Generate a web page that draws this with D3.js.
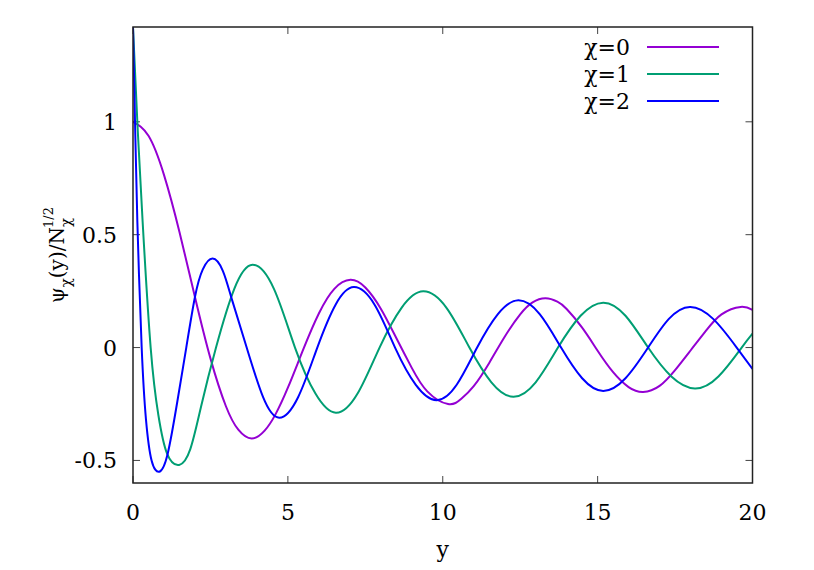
<!DOCTYPE html>
<html>
<head>
<meta charset="utf-8">
<script src="https://cdn.jsdelivr.net/npm/d3@7"></script>
<style>
  html, body { margin: 0; padding: 0; background: #fff; }
</style>
</head>
<body>
<svg id="chart" width="814" height="570"></svg>
<script>
// ---- data ----
const seriesNames = ["χ=0", "χ=1", "χ=2"];
const seriesColors = ["#9400d3", "#009e73", "#0000ff"];

// χ=0 : [y, value]
const chi0 = [
  [0,1],[0.5,0.938],[1,0.765],[1.5,0.512],[2,0.224],[2.5,-0.048],[3,-0.260],[3.4,-0.364],
  [3.83,-0.403],[4.25,-0.368],[4.6,-0.296],[5,-0.178],[5.5,-0.007],[6,0.151],[6.5,0.260],[7.02,0.300],
  [7.5,0.266],[8,0.172],[8.5,0.042],[9,-0.090],[9.5,-0.194],[10.17,-0.250],[10.6,-0.227],[11,-0.171],
  [11.5,-0.068],[12,0.048],[12.5,0.147],[12.9,0.200],[13.32,0.218],[13.7,0.203],[14,0.171],[14.5,0.088],
  [15,-0.014],[15.5,-0.109],[16,-0.175],[16.47,-0.197],[17,-0.170],[17.5,-0.100],[18,-0.013],
  [18.5,0.075],[19,0.147],[19.62,0.180],[20,0.167]
];
// χ=1
const chi1 = [
  [0,1.42],[0.14,1.0],[0.31,0.56],[0.57,0.0],[0.82,-0.30],[1.1,-0.47],[1.49,-0.52],[1.85,-0.45],
  [2.2,-0.26],[2.68,0.0],[3.27,0.26],[3.86,0.367],[4.55,0.26],[5.23,0.0],
  [5.89,-0.204],[6.55,-0.289],[7.25,-0.204],[7.96,0.0],[8.67,0.176],[9.37,0.249],[10.12,0.176],
  [10.86,0.0],[11.57,-0.154],[12.28,-0.218],[13.0,-0.154],[13.72,0.0],[14.45,0.141],[15.18,0.199],
  [15.9,0.141],[16.63,0.0],[17.38,-0.128],[18.14,-0.181],[18.9,-0.128],[19.65,0.0],[20,0.062]
];
// χ=2
const chi2 = [
  [0,1.42],[0.065,1.0],[0.14,0.56],[0.28,0.0],[0.42,-0.32],[0.6,-0.5],[0.85,-0.55],[1.12,-0.47],
  [1.43,-0.24],[1.72,0.0],[2.0,0.224],[2.25,0.345],[2.57,0.394],[2.9,0.34],[3.2,0.21],[3.67,0.0],[4.2,-0.22],
  [4.72,-0.311],[5.33,-0.22],[5.95,0.0],[6.54,0.19],[7.13,0.268],[7.8,0.19],[8.46,0.0],[9.13,-0.165],
  [9.8,-0.233],[10.45,-0.165],[11.11,0.0],[11.78,0.148],[12.44,0.209],[13.13,0.148],[13.82,0.0],
  [14.5,-0.136],[15.18,-0.192],[15.9,-0.136],[16.63,0.0],[17.3,0.127],[17.98,0.18],[18.73,0.127],
  [19.49,0.0],[20,-0.095]
];
const seriesData = [chi0, chi1, chi2];

const xTicks = [0, 5, 10, 15, 20];
const yTicks = [-0.5, 0, 0.5, 1];
const xDomain = [0, 20];
const yDomain = [-0.6, 1.42];

// ---- layout ----
const FONT = "DejaVu Serif";
const svg = d3.select("#chart");
const L = 133, R = 752.5, T = 27, B = 483;
const x = d3.scaleLinear().domain(xDomain).range([L, R]);
const y = d3.scaleLinear().domain(yDomain).range([B, T]);
const FS = 22;

svg.append("defs").append("clipPath").attr("id", "clip")
  .append("rect").attr("x", L).attr("y", T).attr("width", R - L).attr("height", B - T);

// ticks (inward, mirrored)
const tickLen = 7;
const axisG = svg.append("g").attr("stroke", "#444").attr("stroke-width", 1);
xTicks.forEach(t => {
  axisG.append("line").attr("x1", x(t)).attr("x2", x(t)).attr("y1", B).attr("y2", B - tickLen);
  axisG.append("line").attr("x1", x(t)).attr("x2", x(t)).attr("y1", T).attr("y2", T + tickLen);
});
yTicks.forEach(t => {
  axisG.append("line").attr("x1", L).attr("x2", L + tickLen).attr("y1", y(t)).attr("y2", y(t));
  axisG.append("line").attr("x1", R).attr("x2", R - tickLen).attr("y1", y(t)).attr("y2", y(t));
});

// tick labels
svg.append("g").selectAll("text").data(xTicks).join("text")
  .style("font-family", FONT)
  .attr("x", d => x(d)).attr("y", 520).attr("text-anchor", "middle")
  .attr("font-size", FS).attr("fill", "#000").text(d => String(d));
svg.append("g").selectAll("text").data(yTicks).join("text")
  .style("font-family", FONT)
  .attr("x", 117).attr("y", d => y(d) + 8).attr("text-anchor", "end")
  .attr("font-size", FS).attr("fill", "#000").text(d => String(d));

// axis labels
svg.append("text").style("font-family", FONT).attr("x", (L + R) / 2).attr("y", 557).attr("text-anchor", "middle")
  .attr("font-size", FS).attr("fill", "#000").text("y");

const yl = svg.append("text").style("font-family", FONT)
  .attr("transform", `translate(64,${(T + B) / 2}) rotate(-90)`)
  .attr("text-anchor", "middle").attr("font-size", 20).attr("fill", "#000");
yl.append("tspan").text("ψ");
yl.append("tspan").attr("font-size", 15).attr("dy", 7).text("χ");
yl.append("tspan").attr("dy", -7).text("(y)/N");
yl.append("tspan").attr("font-size", 15).attr("dy", 7).text("χ");
yl.append("tspan").attr("font-size", 13).attr("dx", -10).attr("dy", -18).text("1/2");

// curves
const line = d3.line().x(d => x(d[0])).y(d => y(d[1])).curve(d3.curveNatural);
svg.append("g").attr("clip-path", "url(#clip)").selectAll("path").data(seriesData).join("path")
  .attr("d", line).attr("fill", "none")
  .attr("stroke", (d, i) => seriesColors[i]).attr("stroke-width", 2);

// border
svg.append("rect").attr("x", L).attr("y", T).attr("width", R - L).attr("height", B - T)
  .attr("fill", "none").attr("stroke", "#222").attr("stroke-width", 1.5);

// legend
const lg = svg.append("g");
seriesNames.forEach((n, i) => {
  const ly = 47 + i * 27;
  lg.append("text").style("font-family", FONT).attr("x", 630).attr("y", ly + 8).attr("text-anchor", "end")
    .attr("font-size", FS).attr("fill", "#000").text(n);
  lg.append("line").attr("x1", 647).attr("x2", 719).attr("y1", ly).attr("y2", ly)
    .attr("stroke", seriesColors[i]).attr("stroke-width", 2);
});
</script>
</body>
</html>
